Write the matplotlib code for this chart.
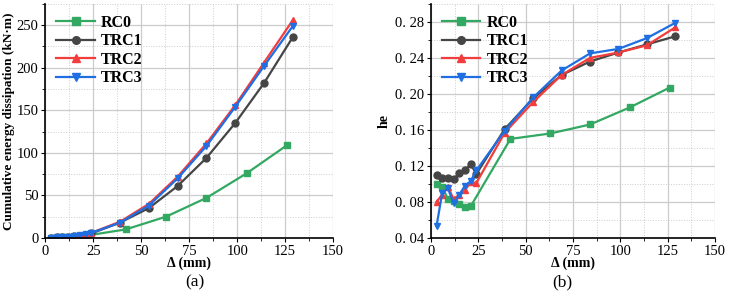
import matplotlib.pyplot as plt
from matplotlib.ticker import MultipleLocator, FuncFormatter

plt.rcParams['font.family'] = ['Liberation Serif', 'DejaVu Serif']

# (a) cumulative energy dissipation
x_rc0 = [3, 6, 9, 12, 15, 18, 21, 42, 63, 84, 105, 126]
e_rc0 = [0.1, 0.3, 0.5, 0.8, 1.2, 1.8, 2.5, 10, 25, 47, 76, 109]
x_trc = [3, 6, 9, 12, 15, 18, 21, 24, 39, 54, 69, 84, 99, 114, 129]
e_trc1 = [0.2, 0.5, 0.9, 1.4, 2.0, 2.8, 3.8, 5.2, 18, 35, 61, 94, 135, 182, 236]
e_trc2 = [0.3, 0.6, 1.0, 1.5, 2.2, 3.1, 4.3, 6.0, 19, 40, 72, 111, 156, 206, 256]
e_trc3 = [0.3, 0.6, 1.0, 1.5, 2.2, 3.0, 4.1, 5.8, 18, 38, 70, 108, 154, 202, 249]

# (b) equivalent viscous damping coefficient
h_rc0 = [0.100, 0.097, 0.083, 0.081, 0.078, 0.074, 0.075, 0.150, 0.156, 0.166, 0.185, 0.207]
h_trc1 = [0.110, 0.107, 0.107, 0.105, 0.112, 0.115, 0.122, 0.111, 0.161, 0.195, 0.221, 0.236, 0.246, 0.255, 0.264]
h_trc2 = [0.080, 0.088, 0.097, 0.083, 0.088, 0.093, 0.102, 0.101, 0.157, 0.191, 0.221, 0.240, 0.246, 0.254, 0.274]
h_trc3 = [0.053, 0.090, 0.095, 0.079, 0.088, 0.098, 0.103, 0.115, 0.159, 0.196, 0.226, 0.245, 0.250, 0.262, 0.279]

labels = ['RC0', 'TRC1', 'TRC2', 'TRC3']
colors = ['#33a862', '#454545', '#f23d3d', '#1f6fe3']
markers = ['s', 'o', '^', 'v']

fig = plt.figure(figsize=(7.29, 3.0), dpi=100)
ax1 = fig.add_axes([0.062, 0.207, 0.395, 0.78])
ax2 = fig.add_axes([0.591, 0.207, 0.390, 0.78])


def style(ax):
    ax.xaxis.set_major_locator(MultipleLocator(25))
    ax.xaxis.set_minor_locator(MultipleLocator(12.5))
    ax.grid(True, which='major', color='#cccccc', lw=0.9)
    ax.grid(True, which='minor', color='#cccccc', lw=0.7, ls=':')
    ax.set_axisbelow(True)
    ax.tick_params(labelsize=10.5, direction='out', length=3, pad=2)
    ax.tick_params(which='minor', length=2)
    for s in ['top', 'right']:
        ax.spines[s].set_visible(False)
    for s in ['left', 'bottom']:
        ax.spines[s].set_linewidth(1.2)
    ax.set_xlim(0, 150)
    ax.set_xlabel('Δ (mm)', fontsize=10, fontweight='bold', labelpad=-1)
    ax.legend(loc='upper left', frameon=False, handlelength=2.4,
              prop={'weight': 'bold', 'size': 11.5}, borderaxespad=0.3,
              labelspacing=0.15, handletextpad=0.4, markerscale=1.1)


ys_a = [e_rc0, e_trc1, e_trc2, e_trc3]
ys_b = [h_rc0, h_trc1, h_trc2, h_trc3]
for i in range(4):
    xs = x_rc0 if i == 0 else x_trc
    ax1.plot(xs, ys_a[i], color=colors[i], marker=markers[i], ms=5, lw=1.6, label=labels[i])
    ax2.plot(xs, ys_b[i], color=colors[i], marker=markers[i], ms=5, lw=1.6, label=labels[i])

ax1.set_ylim(0, 275)
ax1.yaxis.set_major_locator(MultipleLocator(50))
ax1.yaxis.set_minor_locator(MultipleLocator(25))
ax1.set_ylabel('Cumulative energy dissipation (kN·m)', fontsize=9.5, fontweight='bold')
ax1.yaxis.set_label_coords(-0.105, 0.5)
style(ax1)

ax2.set_ylim(0.04, 0.30)
ax2.yaxis.set_major_locator(MultipleLocator(0.04))
ax2.yaxis.set_minor_locator(MultipleLocator(0.02))
ax2.yaxis.set_major_formatter(FuncFormatter(lambda v, p: '0. %02d' % round(v * 100)))
ax2.set_ylabel('he', fontsize=10, fontweight='bold', labelpad=3)
style(ax2)

fig.text(0.267, 0.06, '(a)', fontsize=12.5, ha='center', va='center')
fig.text(0.772, 0.06, '(b)', fontsize=12.5, ha='center', va='center')

fig.savefig('out.png', dpi=100)
